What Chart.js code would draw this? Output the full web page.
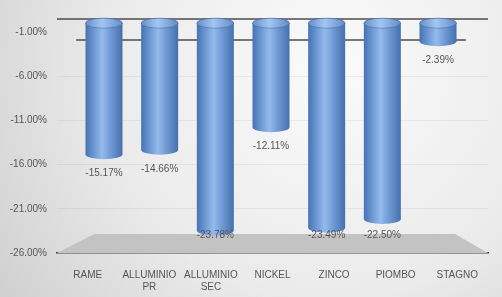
<!DOCTYPE html>
<html>
<head>
<meta charset="utf-8">
<script src="https://cdn.jsdelivr.net/npm/chart.js@4.4.1/dist/chart.umd.min.js"></script>
<style>
  html, body { margin: 0; padding: 0; background: #fff; }
  #wrap { width: 502px; height: 297px; }
</style>
</head>
<body>
<div id="wrap"><canvas id="chart" width="502" height="297"></canvas></div>
<script>
// Variazione prezzi metalli (%)
const categories = ['RAME', ['ALLUMINIO', 'PR'], ['ALLUMINIO', 'SEC'], 'NICKEL', 'ZINCO', 'PIOMBO', 'STAGNO'];
const changes = [-15.17, -14.66, -23.78, -12.11, -23.49, -22.50, -2.39];
const yTicks = [-26, -21, -16, -11, -6, -1];

const textColor = '#555555';
const font = { family: '"Liberation Sans", Arial, sans-serif', size: 10 };

// soft grey backdrop like the Excel chart area
const backdrop = {
  id: 'backdrop',
  beforeDraw(chart) {
    const { ctx, width, height } = chart;
    const g = ctx.createRadialGradient(330, 70, 20, 330, 70, 430);
    g.addColorStop(0, '#f9f9f9');
    g.addColorStop(0.5, '#ebebeb');
    g.addColorStop(1, '#cbcbcb');
    ctx.save();
    ctx.fillStyle = g;
    ctx.fillRect(0, 0, width, height);
    ctx.restore();
  }
};

// floor and wall edges of the 3D box
const box3d = {
  id: 'box3d',
  beforeDatasetsDraw(chart) {
    const { ctx, chartArea: a } = chart;
    const xb = chart.scales.xb;
    const backL = xb.getPixelForValue(-0.5);
    const backR = xb.getPixelForValue(6.5);
    const floorTop = a.bottom - 19;
    ctx.save();
    ctx.fillStyle = '#c3c3c3';
    ctx.beginPath();
    ctx.moveTo(a.left, a.bottom);
    ctx.lineTo(a.left + 37, floorTop);
    ctx.lineTo(a.right - 33, floorTop);
    ctx.lineTo(a.right, a.bottom);
    ctx.closePath();
    ctx.fill();

    ctx.strokeStyle = '#4d4d4d';
    ctx.lineWidth = 1.5;
    ctx.beginPath();
    ctx.moveTo(backL, a.top + 8);
    ctx.lineTo(backR, a.top + 8);
    ctx.stroke();
    ctx.beginPath();
    ctx.moveTo(a.left, a.top - 13);
    ctx.lineTo(a.right, a.top - 13);
    ctx.stroke();
    ctx.restore();
  }
};

// draw each bar as a hanging cylinder + its value label
const cylinders = {
  id: 'cylinders',
  afterDatasetsDraw(chart) {
    const { ctx } = chart;
    const meta = chart.getDatasetMeta(0);
    meta.data.forEach((bar, i) => {
      const { x, y, base, width } = bar.getProps(['x', 'y', 'base', 'width'], true);
      const rx = width / 2, ry = 5;
      const left = x - rx;
      const bottom = y - 3;

      const body = ctx.createLinearGradient(left, 0, left + width, 0);
      body.addColorStop(0, '#4673b3');
      body.addColorStop(0.3, '#79a3dc');
      body.addColorStop(0.45, '#94bbec');
      body.addColorStop(0.7, '#6e98d3');
      body.addColorStop(1, '#4470ae');

      ctx.save();
      ctx.fillStyle = body;
      ctx.beginPath();
      ctx.moveTo(left, base);
      ctx.lineTo(left, bottom);
      ctx.ellipse(x, bottom, rx, ry, 0, Math.PI, 0, true);
      ctx.lineTo(left + width, base);
      ctx.closePath();
      ctx.fill();

      const cap = ctx.createLinearGradient(left, 0, left + width, 0);
      cap.addColorStop(0, '#6690cb');
      cap.addColorStop(0.45, '#a3c6f2');
      cap.addColorStop(1, '#628cc8');
      ctx.fillStyle = cap;
      ctx.strokeStyle = 'rgba(50,85,140,0.55)';
      ctx.lineWidth = 0.8;
      ctx.beginPath();
      ctx.ellipse(x, base, rx, ry, 0, 0, Math.PI * 2);
      ctx.fill();
      ctx.stroke();

      ctx.fillStyle = textColor;
      ctx.font = `${font.size}px ${font.family}`;
      ctx.textAlign = 'center';
      ctx.textBaseline = 'middle';
      ctx.fillText(changes[i].toFixed(2) + '%', x, Math.min(y + 16, 235));
      ctx.restore();
    });
  }
};

new Chart(document.getElementById('chart'), {
  type: 'bar',
  data: {
    labels: categories,
    datasets: [{
      data: changes.map((v, i) => ({ x: i, y: v })),
      xAxisID: 'xb',
      backgroundColor: 'rgba(0,0,0,0)',
      borderWidth: 0,
      barThickness: 37
    }]
  },
  options: {
    responsive: false,
    animation: false,
    devicePixelRatio: 1,
    layout: { padding: { top: 32, right: 14, left: 0, bottom: 0 } },
    plugins: { legend: { display: false }, tooltip: { enabled: false } },
    scales: {
      x: {
        type: 'category',
        offset: true,
        grid: { display: false },
        border: { color: '#404040', width: 1.5 },
        ticks: { color: textColor, font, padding: 8, maxRotation: 0, autoSkip: false },
        afterFit(scale) { scale.height = 44; }
      },
      // bars sit on the back plane, a bit narrower than the front axis
      xb: { type: 'linear', display: false, offset: false, min: -0.844, max: 6.898 },
      y: {
        min: -26,
        max: -1,
        beginAtZero: false,
        afterBuildTicks(scale) { scale.ticks = yTicks.map(v => ({ value: v })); },
        grid: {
          drawTicks: false,
          color: c => (c.tick && (c.tick.value === -1 || c.tick.value === -26)) ? 'rgba(0,0,0,0)' : 'rgba(0,0,0,0.05)'
        },
        border: { display: false },
        ticks: { color: textColor, font, padding: 10, callback: v => v.toFixed(2) + '%' },
        afterFit(scale) { scale.width = 57; }
      }
    }
  },
  plugins: [backdrop, box3d, cylinders]
});
</script>
</body>
</html>
